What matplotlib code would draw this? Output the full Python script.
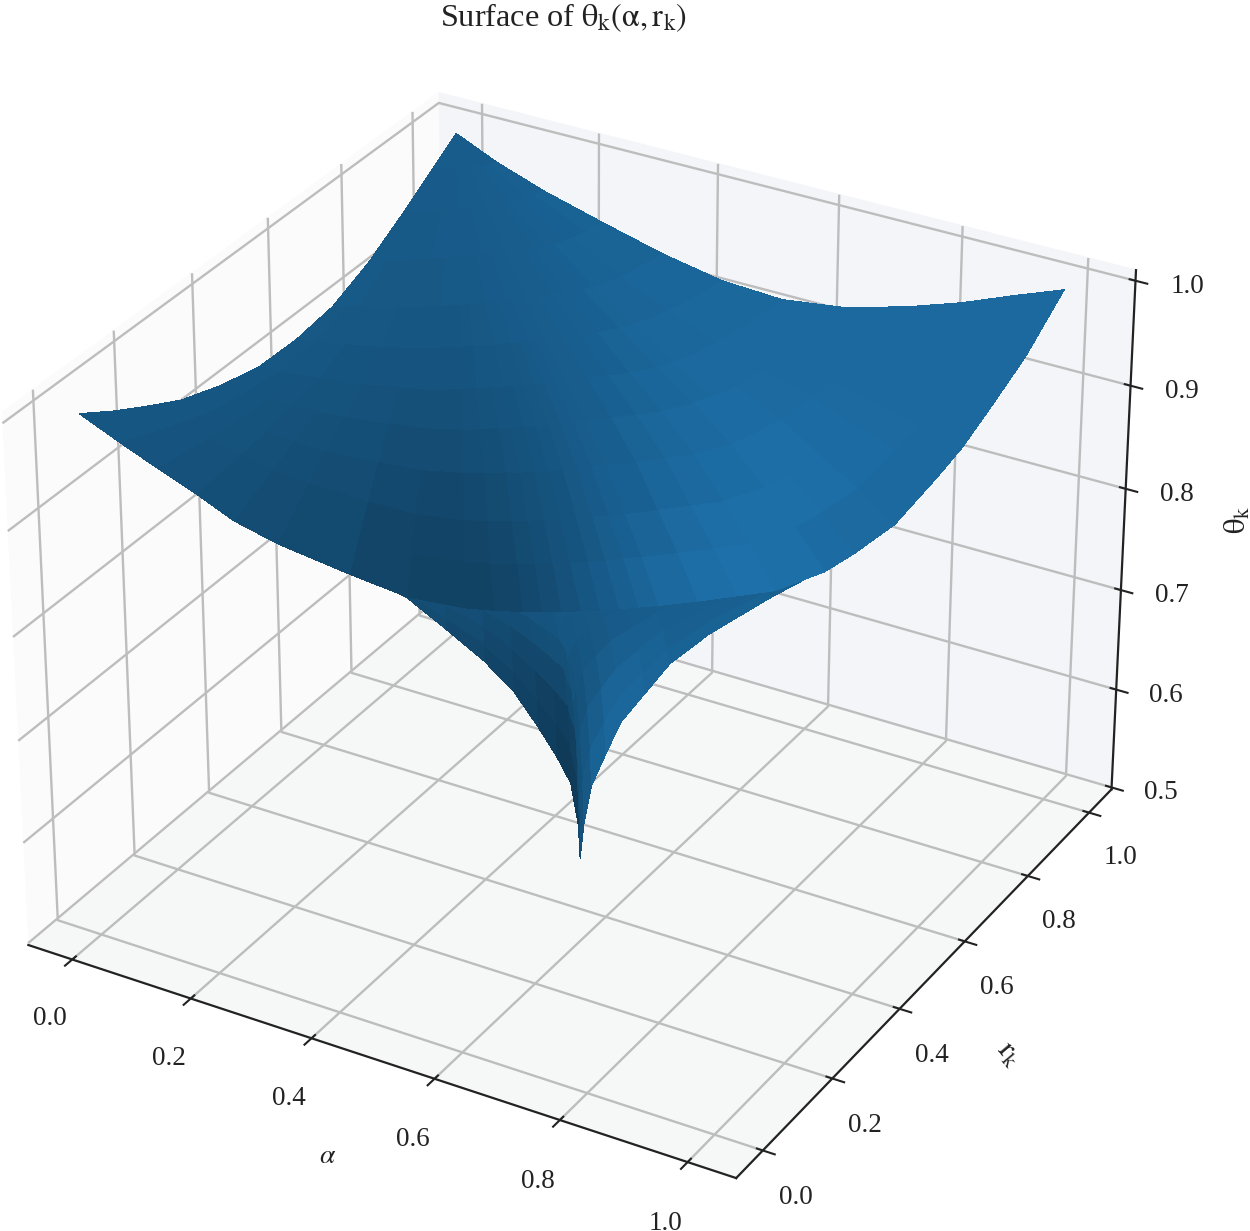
import numpy as np
import matplotlib
matplotlib.use("Agg")
import matplotlib.pyplot as plt

plt.rcParams['font.family'] = ['Liberation Serif', 'DejaVu Serif']
plt.rcParams['mathtext.fontset'] = 'stix'

tick_vals = [0.0, 0.2, 0.4, 0.6, 0.8, 1.0]
z_ticks = [0.5, 0.6, 0.7, 0.8, 0.9, 1.0]

# Upper sheet: fan from corner (alpha=0, r=1) to the diagonal
upper_t = [0, .037, .074, .112, .149, .192, .264, .322, .381, .41, .44, .46, .48, .50, .52, .54, .56, .581, .622, .663, .704,
           .756, .787, .829, .872, .898, .925, .962, 1.0]
upper_s = [0, .08, .16, .25, .35, .45, .55, .65, .75, .85, .93, 1.0]
upper_z = [
 [1.0, .97, .941, .912, .882, .855, .817, .788, .77, .764, .759, .756, .754, .752, .75, .749, .748, .747, .746, .746, .746, .758, .772, .795, .835, .861, .894, .941, 1.0],
 [.98, .955, .933, .909, .885, .863, .832, .809, .794, .789, .785, .783, .781, .779, .778, .777, .777, .776, .775, .775, .775, .785, .796, .815, .847, .869, .896, .934, .982],
 [.962, .943, .925, .906, .887, .87, .845, .827, .815, .811, .808, .806, .805, .804, .803, .802, .801, .80, .80, .80, .80, .808, .817, .831, .857, .874, .895, .926, .963],
 [.943, .929, .917, .903, .89, .877, .86, .847, .839, .836, .834, .832, .831, .83, .83, .829, .829, .828, .828, .828, .828, .833, .84, .851, .869, .881, .896, .918, .945],
 [.929, .92, .911, .902, .892, .884, .872, .863, .857, .855, .854, .853, .852, .851, .851, .851, .851, .85, .85, .85, .85, .854, .858, .865, .878, .886, .896, .911, .929],
 [.919, .913, .907, .901, .895, .89, .882, .876, .873, .872, .871, .87, .87, .869, .869, .868, .868, .868, .868, .868, .868, .87, .873, .878, .887, .892, .899, .909, .921],
 [.918, .914, .911, .908, .904, .901, .896, .893, .891, .89, .89, .889, .889, .888, .888, .888, .888, .888, .888, .888, .888, .89, .892, .895, .901, .904, .909, .916, .924],
 [.923, .921, .92, .918, .916, .914, .912, .91, .909, .909, .909, .908, .908, .908, .908, .908, .908, .908, .908, .908, .908, .909, .911, .913, .917, .92, .924, .929, .935],
 [.939, .938, .938, .937, .936, .936, .935, .934, .934, .933, .933, .933, .933, .933, .933, .933, .933, .933, .933, .933, .933, .934, .935, .936, .939, .941, .943, .946, .95],
 [.962, .962, .961, .961, .96, .96, .959, .959, .958, .958, .958, .958, .958, .958, .958, .958, .958, .958, .958, .958, .958, .958, .959, .96, .961, .962, .963, .964, .966],
 [.982, .982, .982, .981, .981, .981, .981, .98, .98, .98, .98, .98, .98, .98, .98, .98, .98, .98, .98, .98, .98, .98, .98, .98, .981, .981, .981, .982, .982],
 [1.0] * 29,
]
upper_shade = [
 [.72, .70, .68, .66, .64, .62, .58, .56, .56, .58, .61, .64, .68, .72, .76, .80, .84, .88, .92, .94, .93, .90, .89, .88, .88, .88, .88, .88, .88],
 [.72, .70, .68, .66, .64, .62, .58, .57, .58, .60, .63, .65, .68, .71, .74, .78, .81, .84, .89, .92, .93, .93, .92, .90, .89, .88, .88, .88, .88],
 [.72, .70, .69, .67, .65, .64, .61, .60, .61, .63, .65, .67, .69, .71, .74, .76, .79, .81, .85, .88, .91, .92, .92, .90, .89, .88, .88, .88, .88],
 [.72, .71, .69, .68, .67, .66, .64, .64, .65, .66, .68, .69, .71, .72, .74, .76, .78, .79, .83, .86, .88, .90, .90, .89, .88, .88, .88, .88, .88],
 [.72, .71, .70, .69, .69, .68, .67, .67, .68, .69, .70, .71, .72, .73, .74, .76, .77, .78, .81, .83, .85, .87, .88, .88, .88, .88, .88, .88, .88],
 [.73, .72, .72, .71, .71, .70, .70, .70, .71, .72, .72, .73, .73, .74, .75, .76, .77, .78, .79, .81, .83, .85, .86, .86, .87, .87, .87, .87, .87],
 [.74, .73, .73, .73, .73, .72, .72, .72, .73, .74, .74, .75, .75, .76, .76, .77, .77, .78, .79, .80, .81, .83, .84, .84, .85, .85, .85, .85, .85],
 [.75, .75, .74, .74, .74, .74, .74, .75, .75, .75, .75, .76, .76, .76, .77, .77, .77, .78, .78, .79, .80, .81, .82, .82, .83, .83, .83, .83, .84],
 [.75, .75, .75, .75, .75, .75, .76, .76, .76, .76, .76, .76, .77, .77, .77, .77, .77, .78, .78, .78, .79, .80, .80, .81, .81, .81, .82, .82, .82],
 [.76, .76, .76, .76, .76, .76, .76, .76, .77, .77, .77, .77, .77, .77, .77, .77, .77, .78, .78, .78, .78, .79, .79, .79, .80, .80, .80, .80, .80],
 [.77] * 29,
 [.77] * 29,
]

# Funnel sheet around the cusp
funnel_t = [.283, .322, .361, .40, .43, .455, .475, .49, .498, .50, .504, .512, .527, .543, .568, .594, .635, .70, .735]
funnel_s = [0, .01, .03, .06, .10, .15, .20, .27]
funnel_z = [
 [.81, .787, .752, .716, .683, .645, .612, .583, .54, .505, .54, .577, .607, .637, .662, .688, .712, .74, .753],
 [.811, .788, .759, .729, .701, .67, .643, .62, .586, .559, .586, .615, .638, .662, .681, .702, .721, .743, .754],
 [.812, .79, .766, .741, .717, .693, .672, .654, .629, .608, .628, .65, .667, .684, .699, .714, .729, .746, .755],
 [.814, .792, .771, .75, .731, .712, .695, .681, .662, .647, .662, .677, .69, .703, .713, .724, .735, .749, .756],
 [.816, .794, .775, .757, .74, .726, .712, .701, .688, .677, .687, .698, .707, .716, .724, .731, .74, .75, .757],
 [.817, .796, .778, .763, .749, .737, .726, .718, .709, .701, .708, .715, .721, .727, .732, .738, .744, .752, .758],
 [.819, .798, .782, .769, .757, .749, .741, .735, .73, .726, .729, .733, .736, .739, .741, .744, .748, .754, .759],
 [.82, .80, .785, .775, .765, .76, .755, .752, .751, .75, .75, .75, .75, .75, .75, .75, .752, .755, .76],
]
funnel_shade = [
 [.66, .63, .60, .57, .55, .52, .49, .50, .62, .68, .74, .82, .86, .86, .84, .82, .82, .80, .78],
 [.68, .65, .63, .60, .57, .54, .52, .54, .62, .67, .72, .78, .84, .84, .82, .80, .80, .79, .78],
 [.68, .66, .65, .62, .60, .60, .60, .62, .64, .66, .69, .74, .78, .80, .80, .79, .79, .78, .78],
 [.69, .67, .66, .65, .65, .66, .67, .67, .68, .69, .70, .72, .74, .76, .77, .78, .78, .78, .78],
 [.69, .68, .68, .68, .69, .70, .71, .72, .72, .72, .72, .73, .74, .75, .76, .77, .78, .78, .78],
 [.69, .69, .69, .69, .70, .71, .72, .72, .73, .73, .73, .74, .75, .76, .77, .78, .79, .80, .80],
 [.69, .69, .69, .69, .70, .71, .72, .72, .73, .73, .73, .74, .75, .76, .77, .78, .79, .80, .80],
 [.69, .69, .69, .69, .70, .71, .72, .72, .73, .73, .73, .74, .75, .76, .77, .78, .79, .80, .80],
]

BASE = np.array([31, 119, 180]) / 255


def fan(ts, ss):
    T, S = np.meshgrid(np.array(ts), np.array(ss))
    return T * (1 - S), T + S * (1 - T)


def tint(shade):
    s = np.array(shade)
    return np.dstack([s * BASE[0], s * BASE[1], s * BASE[2], np.ones_like(s)])


fig = plt.figure(figsize=(12.5, 12.31), dpi=100)
ax = fig.add_axes([-0.0592, -0.0081, 1.02, 1.0], projection='3d')
ax.computed_zorder = False
ax.view_init(elev=30.2, azim=-60)
ax.set_box_aspect(None, zoom=1.0236)

A, R = fan(funnel_t, funnel_s)
ax.plot_surface(A, R, np.array(funnel_z), facecolors=tint(funnel_shade), shade=False,
                rstride=1, cstride=1, linewidth=0, antialiased=False, zorder=1)
A, R = fan(upper_t, upper_s)
ax.plot_surface(A, R, np.array(upper_z), facecolors=tint(upper_shade), shade=False,
                rstride=1, cstride=1, linewidth=0, antialiased=False, zorder=2)

ax.set_xlim(-0.075, 1.075, view_margin=0)
ax.set_ylim(-0.075, 1.075, view_margin=0)
ax.set_zlim(0.498, 1.010, view_margin=0)
ax.set_xticks(tick_vals)
ax.set_yticks(tick_vals)
ax.set_zticks(z_ticks)
ax.set_xticklabels([f"{v:.1f}" for v in tick_vals])
ax.set_yticklabels([f"{v:.1f}" for v in tick_vals])
ax.set_zticklabels([f"{v:.1f}" for v in z_ticks])
ax.tick_params(labelsize=19.5, colors='#222222')
ax.tick_params(axis='x', pad=16)
ax.tick_params(axis='y', pad=13)
ax.tick_params(axis='z', pad=14)

ax.xaxis.set_pane_color((0.985, 0.985, 0.985, 1))
ax.yaxis.set_pane_color((0.953, 0.96, 0.973, 1))
ax.zaxis.set_pane_color((0.965, 0.973, 0.973, 1))
for axis in (ax.xaxis, ax.yaxis, ax.zaxis):
    axis._axinfo['grid'].update(color='#bdbdbd', linewidth=1.7)
    axis.line.set_color('#222222')
    axis.line.set_linewidth(1.6)
    axis._axinfo['tick']['color'] = '#222222'
    axis._axinfo['tick']['linewidth'] = {True: 1.5, False: 1.0}
    axis.set_rotate_label(False)

ax.set_xlabel(r'$\alpha$', fontsize=20, labelpad=28, color='#222222', rotation=0)
ax.set_ylabel(r'$\mathrm{r_k}$', fontsize=22, labelpad=29, color='#222222', rotation=-50)
ax.set_zlabel(r'$\mathrm{\theta_k}$', fontsize=22, labelpad=29, color='#222222', rotation=90)
fig.text(0.4505, 0.9855, r'Surface of $\mathrm{\theta_k(\alpha, r_k)}$', ha='center', va='center',
         fontsize=23.2, color='#222222')

fig.savefig('out.png', dpi=100)
